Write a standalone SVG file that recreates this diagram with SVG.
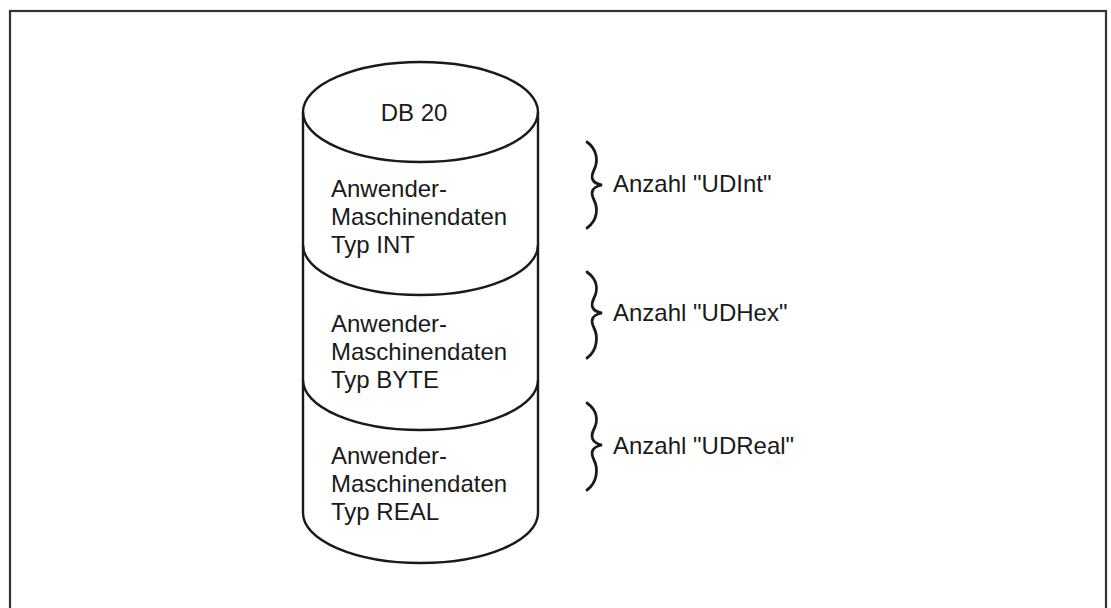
<svg xmlns="http://www.w3.org/2000/svg" width="1111" height="608" viewBox="0 0 1111 608">
<style>
.ln{fill:none;stroke:#1a1a1a;stroke-width:2.4}
.br{fill:none;stroke:#1a1a1a;stroke-width:2.8;stroke-linecap:round}
text{font-family:"Liberation Sans",Arial,sans-serif;font-size:24px;fill:#1a1a1a}
</style>
<rect x="0" y="0" width="1111" height="608" fill="#ffffff"/>
<rect id="frame" x="10" y="11" width="1096" height="620" fill="none" stroke="#333333" stroke-width="2.2"/>
<g id="cylinder">
<path class="ln" d="M303,112 L303,513 A117.5,50 0 0 0 538,513 L538,112"/>
<ellipse class="ln" cx="420.5" cy="112" rx="117.5" ry="50"/>
<path class="ln" d="M303,245 A117.5,50 0 0 0 538,245"/>
<path class="ln" d="M303,380 A117.5,50 0 0 0 538,380"/>
</g>
<g id="db20"><text x="414" y="121" text-anchor="middle">DB 20</text></g>
<g id="sec-int">
<text x="331" y="197">Anwender-</text>
<text x="331" y="225">Maschinendaten</text>
<text x="331" y="253">Typ INT</text>
</g>
<g id="sec-byte">
<text x="331" y="332">Anwender-</text>
<text x="331" y="360">Maschinendaten</text>
<text x="331" y="388">Typ BYTE</text>
</g>
<g id="sec-real">
<text x="331" y="464">Anwender-</text>
<text x="331" y="492">Maschinendaten</text>
<text x="331" y="520">Typ REAL</text>
</g>
<g id="brace-int">
<path class="br" d="M587,142 C598,150 598,162 594,170 C590,178 592,183 602,185 C592,187 590,192 594,200 C598,208 598,220 587,228"/>
<text x="613" y="192">Anzahl "UDInt"</text>
</g>
<g id="brace-hex">
<path class="br" d="M587,272 C598,280 598,290 594,298 C590,306 592,311 602,313 C592,315 590,320 594,328 C598,336 598,350 587,358"/>
<text x="613" y="321">Anzahl "UDHex"</text>
</g>
<g id="brace-real">
<path class="br" d="M587,403 C598,411 598,421 594,429 C590,437 592,443 602,445 C592,447 590,452 594,460 C598,468 598,482 587,490"/>
<text x="613" y="454">Anzahl "UDReal"</text>
</g>
</svg>
